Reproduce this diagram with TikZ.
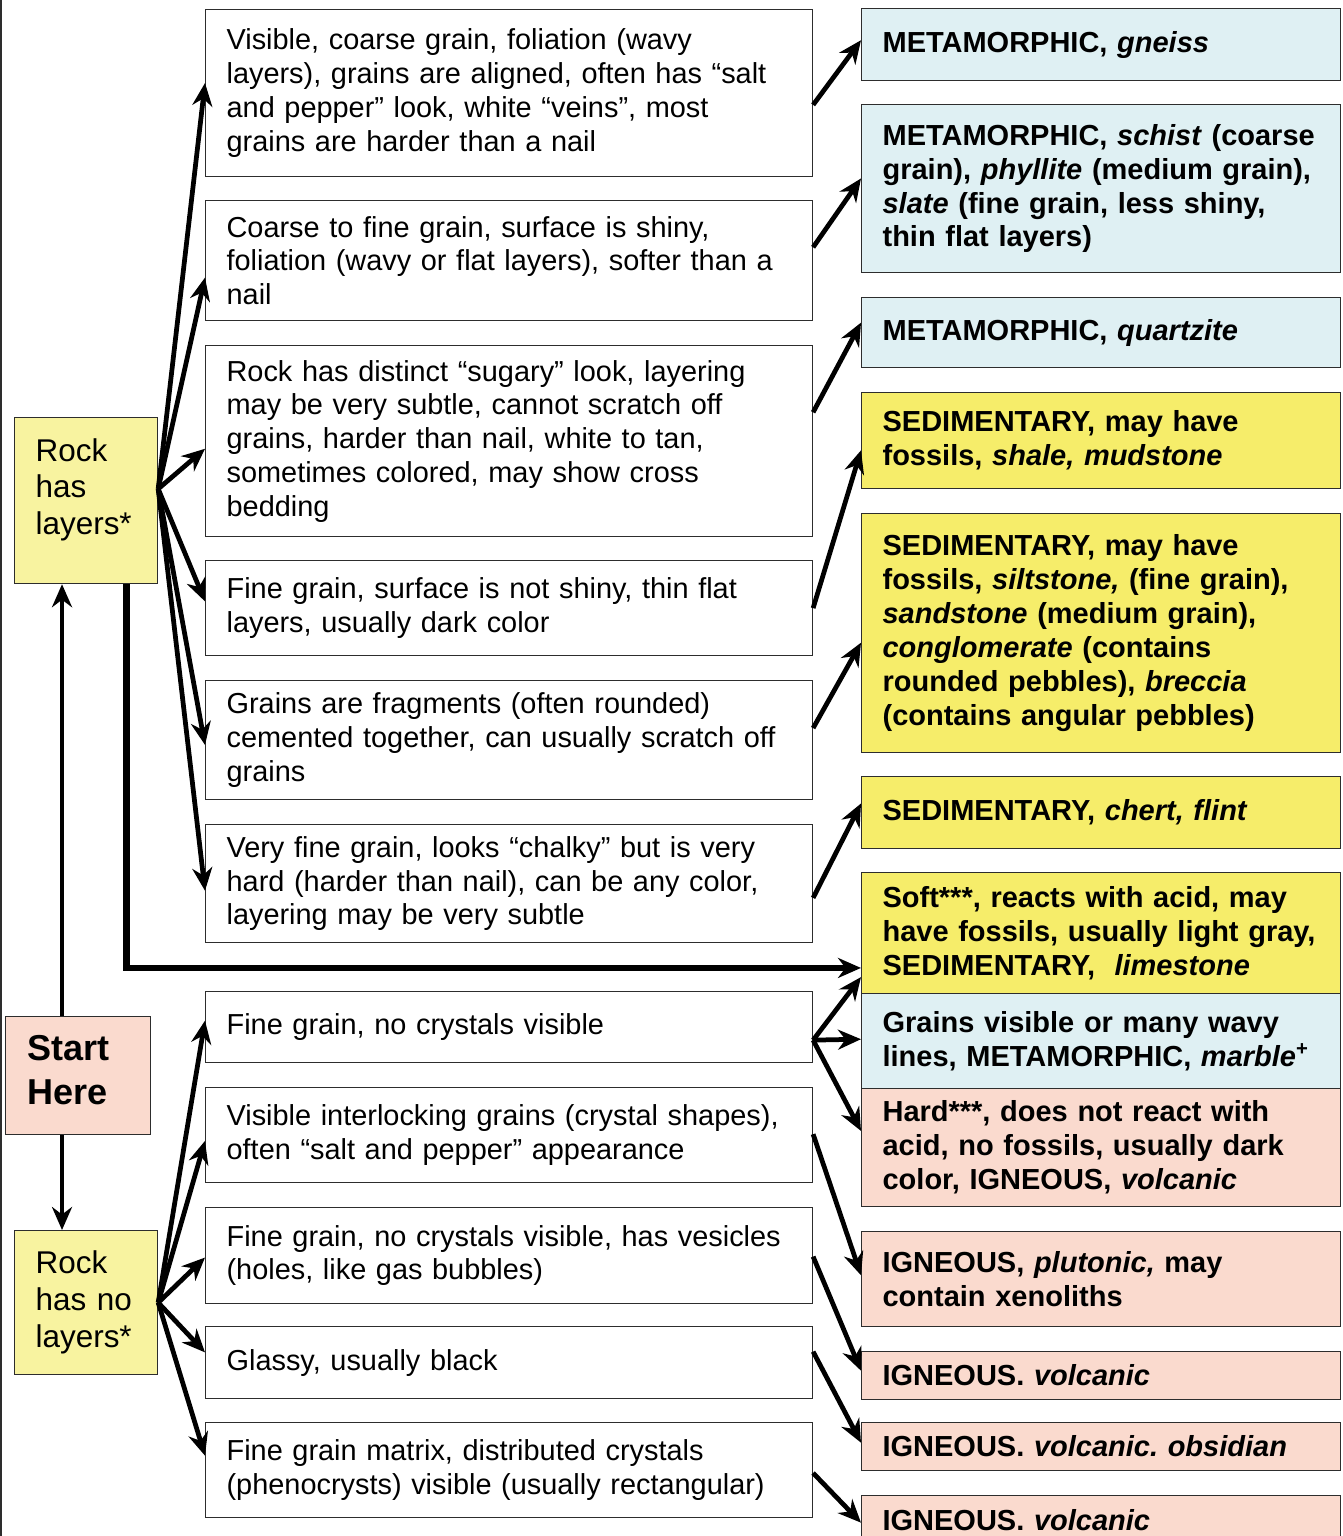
\documentclass[tikz,border=0pt]{standalone}
\usepackage{fontspec}
\setmainfont{Liberation Sans}
\usepackage{tikz}
\usetikzlibrary{arrows.meta,calc}
\frenchspacing

\definecolor{metablue}{RGB}{223,240,243}
\definecolor{sedyellow}{RGB}{246,237,106}
\definecolor{paleyellow}{RGB}{248,243,160}
\definecolor{ignsalmon}{RGB}{250,218,206}
\definecolor{edgegray}{RGB}{45,45,45}

\begin{document}
\begin{tikzpicture}[x=0.02cm,y=-0.02cm,
  arr/.style={-{Stealth[length=0.46cm,width=0.4cm,inset=0.15cm]},line width=0.095cm},
  midbox/.style={draw=edgegray,line width=0.7pt,fill=white,anchor=north west,
    minimum width=12.14cm,text width=11.3cm,inner xsep=0.42cm,inner ysep=2pt,
    align=left,font=\fontsize{16.45}{19.2}\selectfont},
  rightbox/.style={draw=edgegray,line width=0.7pt,anchor=north west,
    minimum width=9.58cm,text width=8.74cm,inner xsep=0.42cm,inner ysep=2pt,
    align=left,font=\fontsize{16.5}{19.3}\selectfont\bfseries},
  leftbox/.style={draw=edgegray,line width=0.7pt,fill=paleyellow,anchor=north west,
    minimum width=2.86cm,text width=2.02cm,inner xsep=0.42cm,inner ysep=2pt,
    align=left,font=\fontsize{17.9}{21}\selectfont}]
\useasboundingbox (0,0) rectangle (1343,1536);
\clip (0,0) rectangle (1343,1536);
\draw[edgegray,line width=0.05cm] (1,0) -- (1,1536);

% left column
\node[leftbox,minimum height=3.32cm] (lyr) at (14,417) {Rock\\has\\layers*\\[-5pt]\mbox{}};
\node[leftbox,fill=ignsalmon,minimum width=2.9cm,minimum height=2.36cm,inner xsep=0.44cm,
  font=\fontsize{20.5}{24.5}\selectfont\bfseries] (st) at (5,1016) {Start\\Here\\[-18pt]\mbox{}};
\node[leftbox,minimum height=2.88cm] (nolyr) at (14,1230) {Rock\\has no\\layers*};

% middle column
\node[midbox,minimum height=3.34cm] (m1) at (205,9) {Visible, coarse grain, foliation (wavy\\layers), grains are aligned, often has “salt\\and pepper” look, white “veins”, most\\grains are harder than a nail};
\node[midbox,minimum height=2.4cm] (m2) at (205,200) {Coarse to fine grain, surface is shiny,\\foliation (wavy or flat layers), softer than a\\nail};
\node[midbox,minimum height=3.82cm] (m3) at (205,345) {Rock has distinct “sugary” look, layering\\may be very subtle, cannot scratch off\\grains, harder than nail, white to tan,\\sometimes colored, may show cross\\bedding};
\node[midbox,minimum height=1.9cm] (m4) at (205,560) {Fine grain, surface is not shiny, thin flat\\layers, usually dark color};
\node[midbox,minimum height=2.38cm] (m5) at (205,680) {Grains are fragments (often rounded)\\cemented together, can usually scratch off\\grains};
\node[midbox,minimum height=2.36cm] (m6) at (205,824) {Very fine grain, looks “chalky” but is very\\hard (harder than nail), can be any color,\\layering may be very subtle};
\node[midbox,minimum height=1.42cm] (m7) at (205,991) {Fine grain, no crystals visible};
\node[midbox,minimum height=1.9cm] (m8) at (205,1087) {Visible interlocking grains (crystal shapes),\\often “salt and pepper” appearance};
\node[midbox,minimum height=1.92cm] (m9) at (205,1207) {Fine grain, no crystals visible, has vesicles\\(holes, like gas bubbles)};
\node[midbox,minimum height=1.44cm] (m10) at (205,1326) {Glassy, usually black};
\node[midbox,minimum height=1.9cm] (m11) at (205,1422) {Fine grain matrix, distributed crystals\\(phenocrysts) visible (usually rectangular)};

% right column
\node[rightbox,fill=metablue,minimum height=1.44cm] (r1) at (861,8) {METAMORPHIC, \textit{gneiss}};
\node[rightbox,fill=metablue,minimum height=3.36cm] (r2) at (861,104) {METAMORPHIC, \textit{schist}~(coarse\\grain), \textit{phyllite} (medium grain),\\\textit{slate} (fine grain, less shiny,\\thin flat layers)};
\node[rightbox,fill=metablue,minimum height=1.4cm] (r3) at (861,297) {METAMORPHIC, \textit{quartzite}};
\node[rightbox,fill=sedyellow,minimum height=1.92cm] (r4) at (861,392) {SEDIMENTARY, may have\\fossils, \textit{shale, mudstone}};
\node[rightbox,fill=sedyellow,minimum height=4.78cm] (r5) at (861,513) {SEDIMENTARY, may have\\fossils, \textit{siltstone,} (fine grain),\\\textit{sandstone} (medium grain),\\\textit{conglomerate} (contains\\rounded pebbles), \textit{breccia}\\(contains angular pebbles)};
\node[rightbox,fill=sedyellow,minimum height=1.44cm] (r6) at (861,776) {SEDIMENTARY, \textit{chert, flint}};
\node[rightbox,fill=sedyellow,minimum height=2.42cm] (r7) at (861,872) {Soft***, reacts with acid, may\\have fossils, usually light gray,\\SEDIMENTARY, \ \textit{limestone}};
\node[rightbox,fill=metablue,minimum height=1.9cm] (r8) at (861,993) {Grains visible or many wavy\\lines, METAMORPHIC, \textit{marble}\textsuperscript{+}};
\node[rightbox,fill=ignsalmon,minimum height=2.36cm] (r9) at (861,1088) {Hard***, does not react with\\acid, no fossils, usually dark\\color, IGNEOUS, \textit{volcanic}};
\node[rightbox,fill=ignsalmon,minimum height=1.9cm] (r10) at (861,1231) {IGNEOUS, \textit{plutonic,} may\\contain xenoliths};
\node[rightbox,fill=ignsalmon,minimum height=0.96cm] (r11) at (861,1351) {IGNEOUS. \textit{volcanic}};
\node[rightbox,fill=ignsalmon,minimum height=0.96cm] (r12) at (861,1422) {IGNEOUS. \textit{volcanic. obsidian}};
\node[rightbox,fill=ignsalmon,minimum height=1.0cm] (r13) at (861,1495) {IGNEOUS. \textit{volcanic}};

% start arrows and the limestone route
\coordinate (stt) at ($(st.north west)!.39!(st.north east)$);
\coordinate (stb) at ($(st.south west)!.39!(st.south east)$);
\draw[arr] (stt) -- (stt |- lyr.south);
\draw[arr] (stb) -- (stb |- nolyr.north);
\draw[arr,line width=0.13cm] ($(lyr.south west)!.78!(lyr.south east)$) |- ($(r7.north west)!.785!(r7.south west)$);

% layered fan
\coordinate (lf) at ($(lyr.north east)!.43!(lyr.south east)$);
\draw[arr] (lf) -- ($(m1.north west)!.44!(m1.south west)$);
\draw[arr] (lf) -- ($(m2.north west)!.64!(m2.south west)$);
\draw[arr] (lf) -- ($(m3.north west)!.54!(m3.south west)$);
\draw[arr] (lf) -- ($(m4.north west)!.43!(m4.south west)$);
\draw[arr] (lf) -- ($(m5.north west)!.54!(m5.south west)$);
\draw[arr] (lf) -- ($(m6.north west)!.56!(m6.south west)$);

% no-layer fan
\draw[arr] (nolyr.east) -- ($(m7.north west)!.41!(m7.south west)$);
\draw[arr] (nolyr.east) -- ($(m8.north west)!.56!(m8.south west)$);
\draw[arr] (nolyr.east) -- ($(m9.north west)!.52!(m9.south west)$);
\draw[arr] (nolyr.east) -- ($(m10.north west)!.36!(m10.south west)$);
\draw[arr] (nolyr.east) -- ($(m11.north west)!.35!(m11.south west)$);

% middle to results
\draw[arr] ($(m1.north east)!.57!(m1.south east)$) -- ($(r1.north west)!.44!(r1.south west)$);
\draw[arr] ($(m2.north east)!.39!(m2.south east)$) -- ($(r2.north west)!.44!(r2.south west)$);
\draw[arr] ($(m3.north east)!.35!(m3.south east)$) -- ($(r3.north west)!.36!(r3.south west)$);
\draw[arr] ($(m4.north east)!.5!(m4.south east)$) -- ($(r4.north west)!.6!(r4.south west)$);
\draw[arr] ($(m5.north east)!.4!(m5.south east)$) -- ($(r5.north west)!.54!(r5.south west)$);
\draw[arr] ($(m6.north east)!.62!(m6.south east)$) -- ($(r6.north west)!.375!(r6.south west)$);
\coordinate (m7o) at ($(m7.north east)!.68!(m7.south east)$);
\draw[arr] (m7o) -- ($(r7.north west)!.86!(r7.south west)$);
\draw[arr] (m7o) -- ($(r8.north west)!.48!(r8.south west)$);
\draw[arr] (m7o) -- ($(r9.north west)!.36!(r9.south west)$);
\draw[arr] ($(m8.north east)!.49!(m8.south east)$) -- ($(r10.north west)!.46!(r10.south west)$);
\draw[arr] ($(m9.north east)!.51!(m9.south east)$) -- ($(r11.north west)!.4!(r11.south west)$);
\draw[arr] ($(m10.north east)!.35!(m10.south east)$) -- ($(r12.north west)!.42!(r12.south west)$);
\draw[arr] ($(m11.north east)!.53!(m11.south east)$) -- ($(r13.north west)!.54!(r13.south west)$);
\end{tikzpicture}
\end{document}
